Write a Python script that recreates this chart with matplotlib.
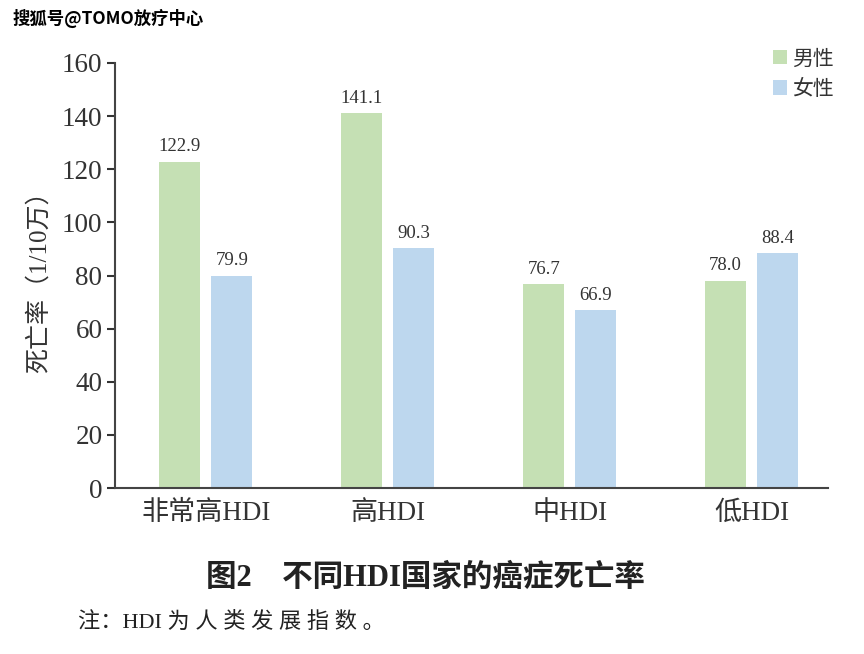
import matplotlib.pyplot as plt
import numpy as np

plt.rcParams['font.family'] = ['Liberation Serif', 'Noto Sans CJK SC']

categories = ["非常高HDI", "高HDI", "中HDI", "低HDI"]
male = [122.9, 141.1, 76.7, 78.0]
female = [79.9, 90.3, 66.9, 88.4]
series_names = ["男性", "女性"]
yticks = [0, 20, 40, 60, 80, 100, 120, 140, 160]

green = "#c5e0b4"
blue = "#bdd7ee"
textc = "#333333"

fig = plt.figure(figsize=(8.64, 6.54), dpi=100)
ax = fig.add_axes([115/864, 1-488/654, 713/864, 425/654])

x = np.arange(len(categories))
w = 0.225
off = 0.143
b1 = ax.bar(x - off, male, w, color=green, label=series_names[0])
b2 = ax.bar(x + off, female, w, color=blue, label=series_names[1])

for bars, vals in ((b1, male), (b2, female)):
    for r, v in zip(bars, vals):
        ax.text(r.get_x() + r.get_width()/2, v + 2.5, "%.1f" % v,
                ha="center", va="bottom", fontsize=13.5, color=textc)

ax.set_xlim(-0.5, 3.42)
ax.set_ylim(0, 160)
ax.set_yticks(yticks)
ax.set_xticks(x)
ax.set_xticklabels(categories)
ax.tick_params(axis="y", labelsize=19.5, colors=textc, length=6, width=1.5, direction="out", pad=3)
ax.tick_params(axis="x", labelsize=19.5, colors=textc, length=0, pad=9)
for s in ("top", "right"):
    ax.spines[s].set_visible(False)
for s in ("left", "bottom"):
    ax.spines[s].set_linewidth(1.5)
    ax.spines[s].set_color("#444444")

ax.set_ylabel("死亡率（1/10万）", fontsize=18, color=textc, labelpad=8)

leg = ax.legend(loc="upper right", bbox_to_anchor=(1.035, 1.075), frameon=False,
                fontsize=15, handlelength=0.7, handleheight=0.7,
                handletextpad=0.25, labelspacing=0.5)
for t in leg.get_texts():
    t.set_color(textc)

fig.text(13/864, 1-18/654, "搜狐号@TOMO放疗中心", fontsize=12.5, fontweight="bold",
         family=["Noto Sans CJK SC"], color="black", va="center", ha="left")
fig.text(425/864, 1-578/654, "图2　不同HDI国家的癌症死亡率", fontsize=22, fontweight="bold",
         color="#222222", ha="center", va="center")
fig.text(78/864, 1-622/654, "注：HDI 为 人 类 发 展 指 数 。", fontsize=16,
         color="#222222", ha="left", va="center")

fig.savefig("out.png", dpi=100)
